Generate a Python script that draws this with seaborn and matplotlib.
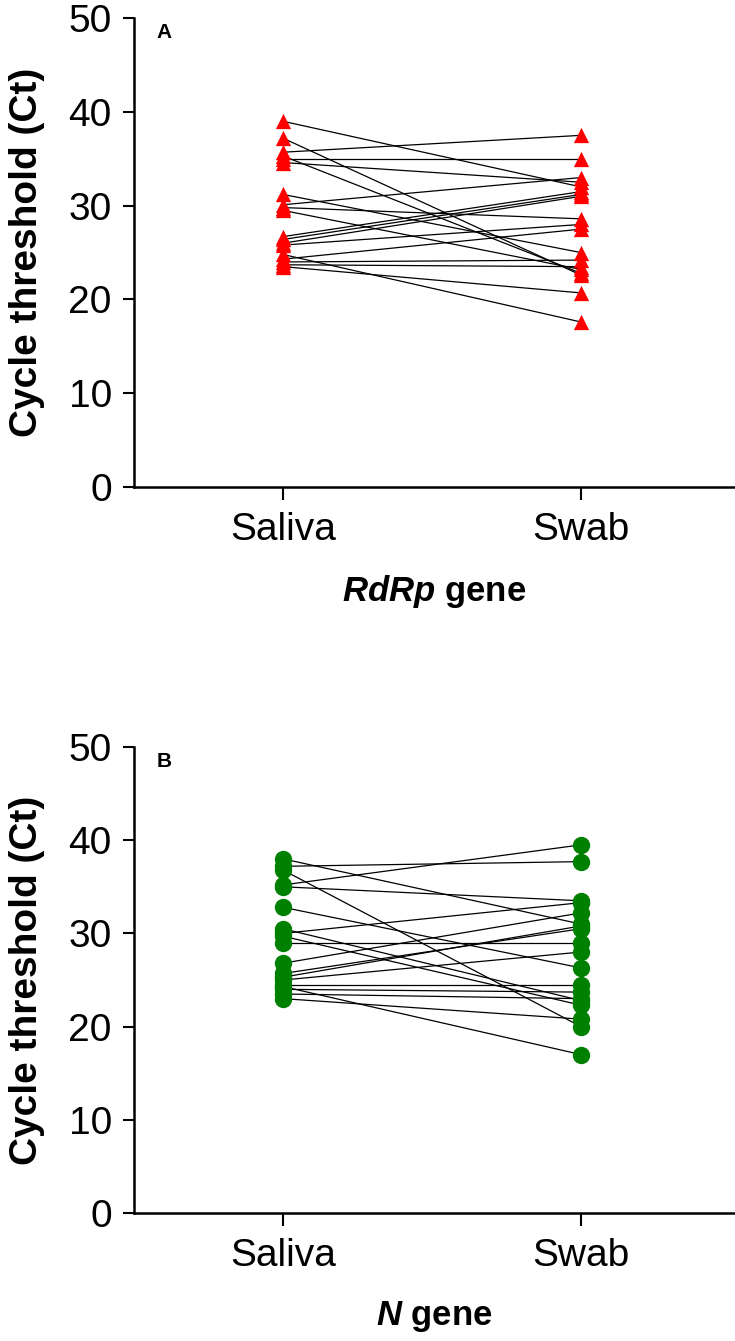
import matplotlib
matplotlib.use("Agg")
import matplotlib.pyplot as plt
import seaborn as sns
import pandas as pd

# ---- data ----
samples = ["Saliva", "Swab"]

rdrp_saliva = [39.0, 37.2, 35.7, 35.3, 35.0, 34.6, 31.2, 30.1, 29.8, 29.5,
               26.7, 26.4, 26.0, 25.8, 24.8, 24.3, 24.0, 23.7, 23.5]
rdrp_swab = [32.0, 22.6, 37.5, 22.8, 35.0, 32.5, 25.0, 33.0, 28.6, 23.2,
             31.5, 31.2, 31.0, 28.0, 17.6, 27.5, 24.2, 23.5, 20.7]

n_saliva = [38.0, 37.2, 36.8, 35.2, 35.0, 32.8, 30.5, 30.0, 29.7, 29.0,
            26.8, 25.7, 25.3, 25.0, 24.5, 24.3, 24.0, 23.5, 23.0]
n_swab = [31.0, 37.7, 20.0, 39.5, 33.5, 26.3, 22.8, 33.3, 22.3, 29.0,
          32.2, 30.5, 30.8, 28.0, 24.5, 17.0, 23.7, 23.0, 20.8]

yticks = [0, 10, 20, 30, 40, 50]


def long_df(sal, swb):
    rows = []
    for i, (a, b) in enumerate(zip(sal, swb)):
        rows.append({"pair": i, "sample": samples[0], "Ct": a})
        rows.append({"pair": i, "sample": samples[1], "Ct": b})
    return pd.DataFrame(rows)


sns.set_theme(style="ticks")
plt.rcParams["font.family"] = ["Liberation Sans", "DejaVu Sans"]
plt.rcParams["mathtext.fontset"] = "custom"
plt.rcParams["mathtext.rm"] = "Liberation Sans"
plt.rcParams["mathtext.it"] = "Liberation Sans:italic"
plt.rcParams["mathtext.bf"] = "Liberation Sans:bold"
plt.rcParams["mathtext.bfit"] = "Liberation Sans:italic:bold"
for k in ["text.color", "axes.labelcolor", "xtick.color", "ytick.color",
          "axes.edgecolor"]:
    plt.rcParams[k] = "black"

fig = plt.figure(figsize=(7.35, 13.41), dpi=100)
axA = fig.add_axes([0.1823, 0.6368, 0.8177, 0.3497])
axB = fig.add_axes([0.1823, 0.09545, 0.8177, 0.3475])

panels = [
    (axA, rdrp_saliva, rdrp_swab, "^", "#ff0000", 11, r"$\bfit{RdRp}$ gene", "A"),
    (axB, n_saliva, n_swab, "o", "#008000", 12.5, r"$\bfit{N}$ gene", "B"),
]

for ax, sal, swb, mk, col, ms, xlabel, tag in panels:
    df = long_df(sal, swb)
    sns.lineplot(data=df, x="sample", y="Ct", units="pair", estimator=None,
                 color="black", linewidth=0.9, ax=ax, legend=False,
                 sort=False, zorder=2)
    sns.scatterplot(data=df, x="sample", y="Ct", marker=mk, color=col,
                    s=ms ** 2, edgecolor=col, linewidth=0, ax=ax,
                    legend=False, zorder=3, clip_on=False)
    ax.set_xlim(-0.5, 1.517)
    ax.set_ylim(0, 50)
    ax.set_yticks(yticks)
    ax.set_ylabel("Cycle threshold (Ct)", fontsize=28, fontweight="bold",
                  labelpad=17)
    ax.set_xlabel(xlabel, fontsize=25, fontweight="bold", labelpad=18)
    ax.tick_params(axis="y", labelsize=28, length=8, width=1.5, pad=8)
    ax.tick_params(axis="x", labelsize=28, length=9, width=1.5, pad=9)
    for s in ["top", "right"]:
        ax.spines[s].set_visible(False)
    for s in ["left", "bottom"]:
        ax.spines[s].set_linewidth(1.8)
    ax.text(0.038, 0.99, tag, transform=ax.transAxes, fontsize=15,
            fontweight="bold", va="top", ha="left")

fig.savefig("out.png", dpi=100)
